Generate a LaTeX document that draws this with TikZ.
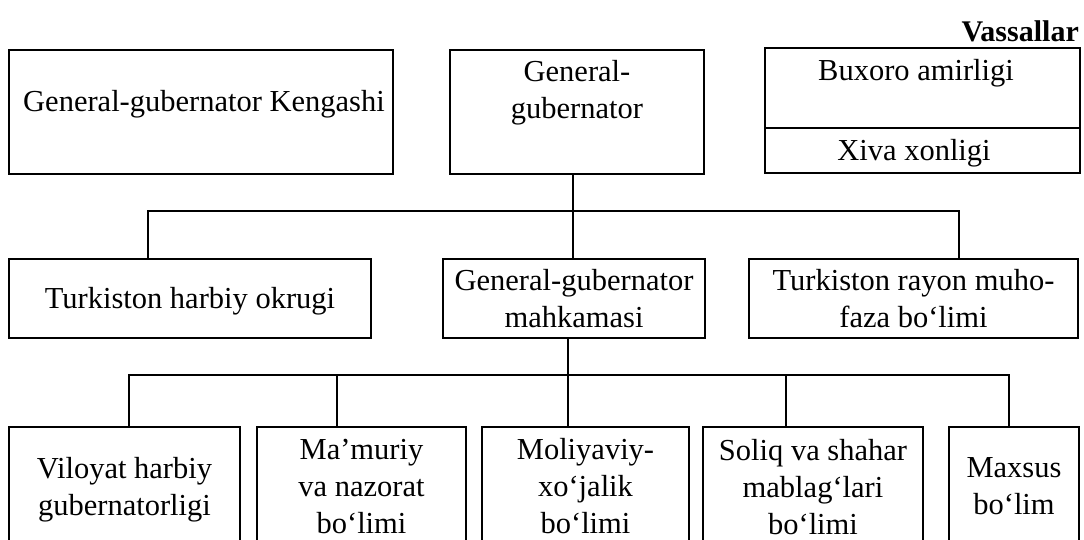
\documentclass[tikz,border=0pt]{standalone}
\usepackage{fontspec}
\setmainfont{Liberation Serif}
\usetikzlibrary{fit}
\tikzset{
  box/.style={draw, line width=1.8pt, inner sep=0pt, outer sep=0pt},
  txt/.style={inner sep=0pt, outer sep=0pt, align=center, font=\fontsize{30.5}{37}\selectfont},
  conn/.style={draw, line width=1.1pt},
}
\begin{document}
\begin{tikzpicture}[x=1pt,y=-1pt]
\useasboundingbox (0,0) rectangle (1084,539);
\clip (0,0) rectangle (1084,539);
\fill[white] (0,0) rectangle (1084,539);

% title of the vassal column
\node[inner sep=0pt, anchor=base east, font=\fontsize{30}{37}\selectfont\bfseries] (vtitle) at (1079,41) {Vassallar};

% top row
\node[box, fit={(9,50) (393,174)}] (keng) {};
\node[txt] (kengt) at (204,104) {\strut General-gubernator Kengashi\strut};
\node[box, fit={(450,50) (704,174)}] (gg) {};
\node[txt] (ggt) at (577,93) {\strut General-\\gubernator\strut};
\node[box, fit={(765,48) (1080,128)}] (bux) {};
\node[txt] (buxt) at (916,73) {\strut Buxoro amirligi\strut};
\node[box, fit={(765,128) (1080,173)}] (xiva) {};
\node[txt] (xivat) at (914,153) {\strut Xiva xonligi\strut};

% second row
\node[box, fit={(9,259) (371,338)}] (harb) {};
\node[txt] (harbt) at (190,301.5) {\strut Turkiston harbiy okrugi\strut};
\node[box, fit={(443,259) (705,338)}] (mahk) {};
\node[txt] (mahkt) at (574,302) {\strut General-gubernator\\mahkamasi\strut};
\node[box, fit={(749,259) (1078,338)}] (rayon) {};
\node[txt] (rayont) at (913.5,302) {\strut Turkiston rayon muho-\\faza bo‘limi\strut};

% third row
\node[box, fit={(9,427) (240,560)}] (vil) {};
\node[txt] (vilt) at (124.5,490) {\strut Viloyat harbiy\\gubernatorligi\strut};
\node[box, fit={(257,427) (466,560)}] (mam) {};
\node[txt] (mamt) at (361.5,489) {\strut Ma’muriy\\va nazorat\\bo‘limi\strut};
\node[box, fit={(482,427) (689,560)}] (mol) {};
\node[txt] (molt) at (585.5,489) {\strut Moliyaviy-\\xo‘jalik\\bo‘limi\strut};
\node[box, fit={(703,427) (923,560)}] (sol) {};
\node[txt] (solt) at (813,490) {\strut Soliq va shahar\\mablag‘lari\\bo‘limi\strut};
\node[box, fit={(949,427) (1079,560)}] (max) {};
\node[txt] (maxt) at (1014,489) {\strut Maxsus\\bo‘lim\strut};

% upper connectors
\coordinate (a1) at (148,211);
\coordinate (a2) at (573,211);
\coordinate (a3) at (959,211);
\draw[conn] (gg.south -| a2) -- (mahk.north -| a2);
\draw[conn] (harb.north -| a1) -- (a1) -- (a3) -- (rayon.north -| a3);

% lower connectors
\coordinate (b1) at (129,375);
\coordinate (b2) at (337,375);
\coordinate (b3) at (568,375);
\coordinate (b4) at (786,375);
\coordinate (b5) at (1009,375);
\draw[conn] (mahk.south -| b3) -- (mol.north -| b3);
\draw[conn] (vil.north -| b1) -- (b1) -- (b5) -- (max.north -| b5);
\draw[conn] (mam.north -| b2) -- (b2);
\draw[conn] (sol.north -| b4) -- (b4);
\end{tikzpicture}
\end{document}
